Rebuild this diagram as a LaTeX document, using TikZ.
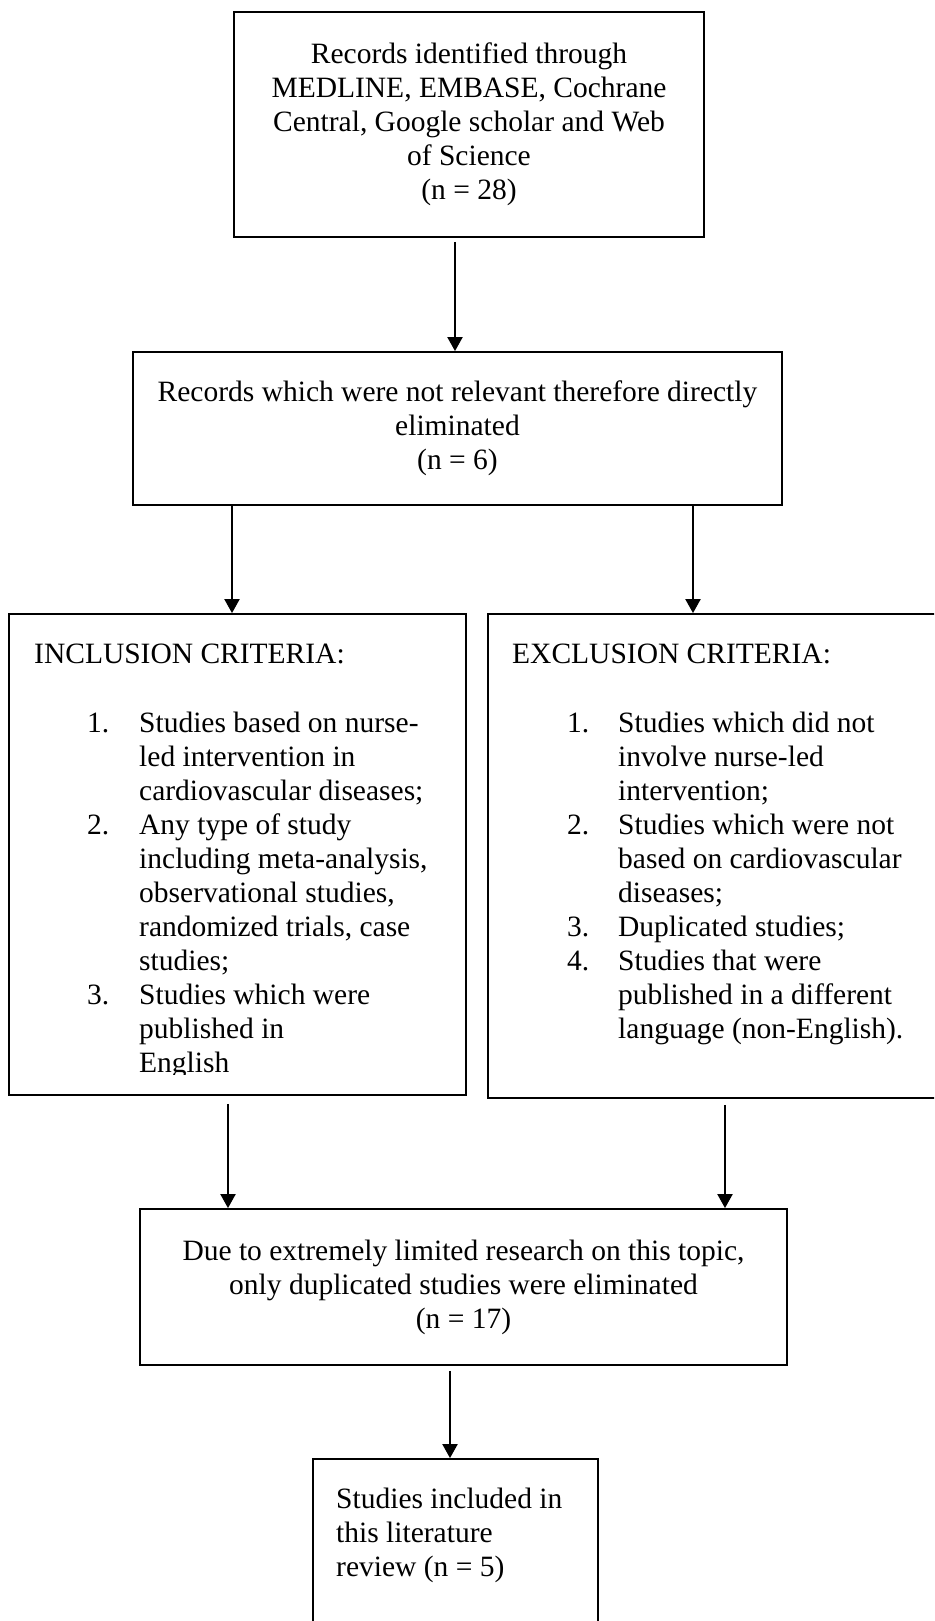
\documentclass[tikz,border=0pt]{standalone}
\usepackage{fontspec}
\setmainfont{Liberation Serif}
\usetikzlibrary{arrows.meta}
\begin{document}
\begin{tikzpicture}[x=1pt,y=-1pt,
  box/.style={draw=black, line width=1.8pt, inner sep=0pt},
  txt/.style={font=\fontsize{29.5}{34}\selectfont, inner sep=0pt},
  arr/.style={line width=2pt, -{Triangle[length=14pt,width=15pt]}}]
\useasboundingbox (0,0) rectangle (934,1621);
\clip (0,0) rectangle (934,1621);
% boxes
\node[box, txt, align=center, minimum width=470pt, minimum height=225pt] (b1) at (469,124.5)
  {Records identified through\\MEDLINE, EMBASE, Cochrane\\Central, Google scholar and Web\\of Science\\(n = 28)};
\node[box, txt, align=center, minimum width=649pt, minimum height=153pt] (b2) at (457.5,428.5)
  {Records which were not relevant therefore directly\\eliminated\\(n = 6)};
\node[box, minimum width=457pt, minimum height=481pt] (b3) at (237.5,854.5) {};
\node[box, minimum width=457pt, minimum height=484pt] (b4) at (716.5,856) {};
\node[box, txt, align=center, minimum width=647pt, minimum height=156pt] (b5) at (463.5,1287)
  {Due to extremely limited research on this topic,\\only duplicated studies were eliminated\\(n = 17)};
\node[box, minimum width=285pt, minimum height=181pt] (b6) at (455.5,1549.5) {};
% box 3 text
\begin{scope}
\clip (9,614) rectangle (466,1074);
\node[txt, anchor=base west] (h3) at (34,663) {INCLUSION CRITERIA:};
\node[txt, anchor=base west] (l3) at (87,732) {\begin{tabular}[t]{@{}p{52pt}@{}l@{}}
1. & Studies based on nurse-\\
 & led intervention in\\
 & cardiovascular diseases;\\
2. & Any type of study\\
 & including meta-analysis,\\
 & observational studies,\\
 & randomized trials, case\\
 & studies;\\
3. & Studies which were\\
 & published in\\
 & English
\end{tabular}};
\end{scope}
% box 4 text
\node[txt, anchor=base west] (h4) at (512,663) {EXCLUSION CRITERIA:};
\node[txt, anchor=base west] (l4) at (567,732) {\begin{tabular}[t]{@{}p{51pt}@{}l@{}}
1. & Studies which did not\\
 & involve nurse-led\\
 & intervention;\\
2. & Studies which were not\\
 & based on cardiovascular\\
 & diseases;\\
3. & Duplicated studies;\\
4. & Studies that were\\
 & published in a different\\
 & language (non-English).
\end{tabular}};
% box 6 text
\node[txt, anchor=base west] (t6) at (336,1508) {\begin{tabular}[t]{@{}l@{}}
Studies included in\\
this literature\\
review (n = 5)
\end{tabular}};
% arrow x positions
\coordinate (ax1) at (455,0);
\coordinate (ax2l) at (232,0);
\coordinate (ax2r) at (693,0);
\coordinate (ax3l) at (228,0);
\coordinate (ax3r) at (725,0);
\coordinate (ax5) at (450,0);
% connectors
\draw[arr, shorten <=4pt] (b1.south -| ax1) -- (b2.north -| ax1);
\draw[arr] (b2.south -| ax2l) -- (b3.north -| ax2l);
\draw[arr] (b2.south -| ax2r) -- (b4.north -| ax2r);
\draw[arr, shorten <=8pt] (b3.south -| ax3l) -- (b5.north -| ax3l);
\draw[arr, shorten <=6pt] (b4.south -| ax3r) -- (b5.north -| ax3r);
\draw[arr, shorten <=5pt] (b5.south -| ax5) -- (b6.north -| ax5);
\end{tikzpicture}
\end{document}
